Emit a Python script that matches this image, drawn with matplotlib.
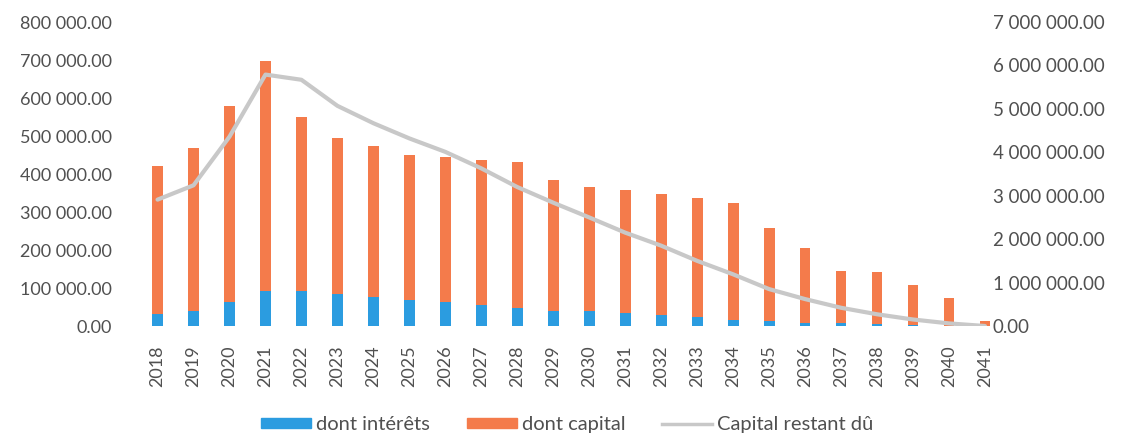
import numpy as np
import matplotlib.pyplot as plt
from matplotlib.ticker import FuncFormatter
from matplotlib.lines import Line2D
from matplotlib.patches import Patch

# ── DATA ─────────────────────────────────────────────────────────────────────
years = [str(y) for y in range(2018, 2042)]

interets = [31000, 40000, 62000, 91000, 91000, 84000, 77000, 69000, 63000, 56000,
            48000, 40000, 39000, 35000, 28000, 24000, 16000, 12000, 9000, 7000,
            4000, 2000, 1000, 500]

totals = [420000, 469000, 578000, 697000, 551000, 496000, 474000, 450000, 444000,
          437000, 432000, 384000, 365000, 359000, 348000, 336000, 323000, 258000,
          206000, 144000, 142000, 109000, 73000, 13000]

capital = [t - i for t, i in zip(totals, interets)]

restant_du = [2910000, 3240000, 4360000, 5790000, 5670000, 5070000, 4670000,
              4320000, 4010000, 3630000, 3200000, 2840000, 2500000, 2150000,
              1850000, 1500000, 1190000, 850000, 620000, 420000, 270000, 150000,
              60000, 0]

BLUE = '#2b9ce0'
ORANGE = '#f47b4b'
GREY = '#c8c8c8'
TXT = '#505050'
# ─────────────────────────────────────────────────────────────────────────────

plt.rcParams['font.family'] = ['Lato', 'DejaVu Sans']


def fmt(v, _pos=None):
    return f'{v:,.2f}'.replace(',', ' ')


fig = plt.figure(figsize=(11.3, 4.38), dpi=100)
ax = fig.add_axes([0.1235, 0.2557, 0.7526, 0.694])
ax2 = ax.twinx()

x = np.arange(len(years))
ax.bar(x, interets, width=0.3, color=BLUE, zorder=2)
ax.bar(x, capital, width=0.3, bottom=interets, color=ORANGE, zorder=2)

ax2.plot(x, restant_du, color=GREY, linewidth=3, solid_capstyle='round', zorder=3)

ax.set_ylim(0, 800000)
ax.set_yticks(np.arange(0, 800001, 100000))
ax2.set_ylim(0, 7000000)
ax2.set_yticks(np.arange(0, 7000001, 1000000))
ax.set_xlim(-0.5, 23.14)

ax.yaxis.set_major_formatter(FuncFormatter(fmt))
ax2.yaxis.set_major_formatter(FuncFormatter(fmt))

ax.set_xticks(x)
ax.set_xticklabels(years, rotation=90)

for a in (ax, ax2):
    for s in a.spines.values():
        s.set_visible(False)
    a.tick_params(length=0, labelsize=13, labelcolor=TXT)
ax.tick_params(axis='y', pad=20)
ax.tick_params(axis='x', pad=14)
ax2.tick_params(axis='y', labelsize=13.5, pad=2)

# line drawn over the bars
ax2.set_zorder(ax.get_zorder() + 1)
ax2.patch.set_visible(False)

handles = [Patch(color=BLUE), Patch(color=ORANGE),
           Line2D([0], [0], color=GREY, linewidth=2.5)]
labels = ['dont intérêts', 'dont capital', 'Capital restant dû']
fig.legend(handles, labels, loc='center', bbox_to_anchor=(0.502, 0.03),
           ncol=3, frameon=False, fontsize=14.5, handlelength=2.5,
           handleheight=0.4, columnspacing=1.8, handletextpad=0.25,
           labelcolor=TXT)

fig.savefig('out.png', dpi=100)
